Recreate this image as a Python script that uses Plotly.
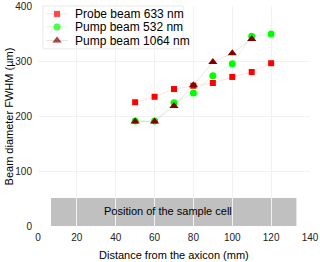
import plotly.graph_objects as go

x_vals = [50, 60, 70, 80, 90, 100, 110, 120]
probe_633 = [225, 235, 249, 255, 260, 271, 280, 296]
pump_532 = [191, 191, 224, 242, 273, 295, 345, 349]
x_1064 = [50, 60, 70, 80, 90, 100, 110]
pump_1064 = [190, 190, 218, 256, 298, 314, 340]

series_names = ["Probe beam 633 nm", "Pump beam 532 nm", "Pump beam 1064 nm"]
cell_x = [6.7, 133]
cell_y = [0, 51]
cell_label = "Position of the sample cell"
x_title = "Distance from the axicon (mm)"
y_title = "Beam diameter FWHM (µm)"

FONT = "Liberation Sans, Arial"
X_RANGE = [0, 140]
Y_RANGE = [0, 400]
styles = [
    dict(symbol="square", size=6, color="#ff0000", line="rgba(255,0,0,0.12)"),
    dict(symbol="circle", size=7, color="#00ff00", line="rgba(0,255,0,0.15)"),
    dict(symbol="triangle-up", size=8, color="#800000", line="rgba(128,0,0,0.12)"),
]

fig = go.Figure()
fig.add_shape(type="rect", x0=cell_x[0], x1=cell_x[1], y0=cell_y[0], y1=cell_y[1],
              fillcolor="#c0c0c0", line=dict(width=0), layer="below")
fig.add_annotation(x=67, y=27, text=cell_label, showarrow=False,
                   font=dict(size=11, color="#000", family=FONT))

for xs, ys, name, st in zip([x_vals, x_vals, x_1064], [probe_633, pump_532, pump_1064],
                            series_names, styles):
    fig.add_trace(go.Scatter(x=xs, y=ys, name=name, mode="lines+markers", showlegend=False,
                             line=dict(color=st["line"], width=1),
                             marker=dict(symbol=st["symbol"], size=st["size"], color=st["color"])))

# compact legend (positions as fractions of the plot area)
def fx(f):
    return X_RANGE[0] + f * (X_RANGE[1] - X_RANGE[0])

def fy(f):
    return Y_RANGE[0] + f * (Y_RANGE[1] - Y_RANGE[0])

fig.add_shape(type="rect", xref="paper", yref="paper", x0=0.018, x1=0.533, y0=0.805, y1=1.0,
              fillcolor="white", line=dict(color="#e8e8e8", width=1), layer="below")
leg_y = [0.964, 0.905, 0.843]
for ly, name, st in zip(leg_y, series_names, styles):
    fig.add_trace(go.Scatter(x=[fx(0.03), fx(0.07), fx(0.11)], y=[fy(ly)] * 3,
                             mode="lines+markers", showlegend=False, hoverinfo="skip",
                             line=dict(color=st["line"], width=1),
                             marker=dict(symbol=st["symbol"], size=[0, st["size"], 0],
                                         color=st["color"])))
    fig.add_annotation(x=0.128, y=ly, xref="paper", yref="paper", xanchor="left",
                       yanchor="middle", text=name, showarrow=False,
                       font=dict(size=12, color="#000", family=FONT))

# axis titles as paper annotations
fig.add_annotation(x=0.5, xref="paper", y=-0.095, yref="paper", xanchor="center", yanchor="top",
                   text=x_title, showarrow=False, font=dict(size=11, color="#000", family=FONT))
fig.add_annotation(x=-0.105, xref="paper", y=0.5, yref="paper", xanchor="center",
                   yanchor="middle", textangle=-90,
                   text=y_title, showarrow=False, font=dict(size=11, color="#000", family=FONT))

fig.update_layout(
    width=320, height=262,
    margin=dict(l=38, r=10, t=6, b=36, autoexpand=False),
    paper_bgcolor="white", plot_bgcolor="white",
    font=dict(family=FONT, size=10, color="#222"),
    showlegend=False,
    xaxis=dict(range=X_RANGE, dtick=20, showgrid=True, gridcolor="#f2f2f2",
               zeroline=False, showline=False, ticks="", automargin=False,
               ticklabelstandoff=4),
    yaxis=dict(range=Y_RANGE, dtick=100, showgrid=True, gridcolor="#f2f2f2",
               zeroline=False, showline=False, ticks="", automargin=False,
               ticklabelstandoff=5),
)

fig.write_html("out.html", config={"displayModeBar": False},
               post_script="document.body.style.margin='0';")
